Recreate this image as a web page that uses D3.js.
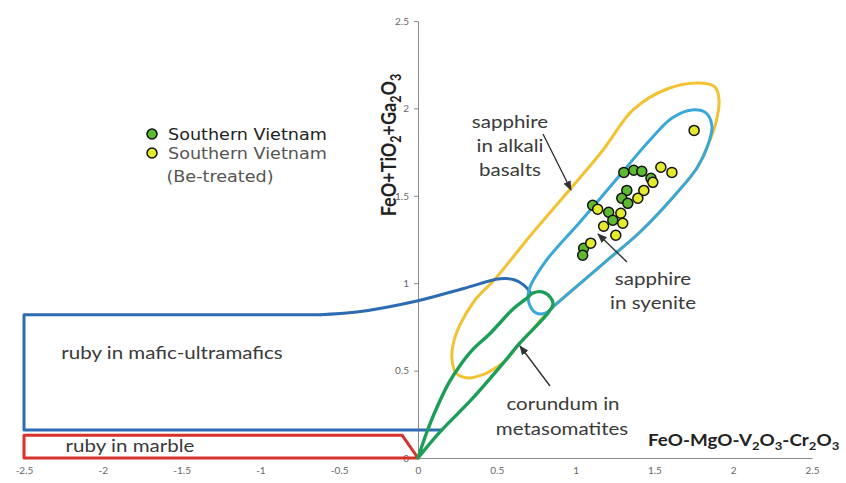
<!DOCTYPE html>
<html>
<head>
<meta charset="utf-8">
<script src="https://cdn.jsdelivr.net/npm/d3@7"></script>
<style>
  html, body { margin: 0; padding: 0; background: #fff; }
  svg { display: block; }
  .lbl { font-family: Lato, "Open Sans", sans-serif; fill: #3a3a3a; }
  .tick text { font-family: Lato, sans-serif; fill: #666; font-size: 10px; }
</style>
</head>
<body>
<svg id="chart" width="846" height="483"></svg>
<script>
// Axis ticks
const xTicks = [-2.5, -2, -1.5, -1, -0.5, 0, 0.5, 1, 1.5, 2, 2.5];
const yTicks = [0, 0.5, 1, 1.5, 2, 2.5];

// Samples: [FeO-MgO-V2O3-Cr2O3, FeO+TiO2+Ga2O3]
const southernVietnam = [
  [1.306, 1.634], [1.369, 1.646], [1.420, 1.640], [1.478, 1.600],
  [1.325, 1.531], [1.293, 1.486], [1.331, 1.457], [1.108, 1.446],
  [1.210, 1.406], [1.236, 1.360], [1.051, 1.200], [1.045, 1.160]
];
const southernVietnamBeTreated = [
  [1.752, 1.874], [1.541, 1.663], [1.611, 1.634], [1.490, 1.577],
  [1.433, 1.531], [1.395, 1.486], [1.140, 1.423], [1.287, 1.400],
  [1.299, 1.343], [1.178, 1.326], [1.255, 1.274], [1.096, 1.229]
];

// Genetic field outlines
const marbleField = [[0, 0], [-2.5, 0], [-2.5, 0.13], [-0.1, 0.13], [0, 0]];
const maficBox = [[0.15, 0.16], [-2.5, 0.16], [-2.5, 0.82], [-0.62, 0.82]];
const maficCurve = [[-0.62, 0.82], [-0.39, 0.835], [0, 0.9], [0.29, 0.97],
  [0.52, 1.025], [0.61, 1.02], [0.67, 0.99], [0.71, 0.95]];
const syeniteField = [
  [0.749, 0.830], [0.704, 0.887], [0.704, 0.961], [0.806, 1.121], [1.028, 1.350],
  [1.282, 1.619], [1.472, 1.819], [1.612, 1.945], [1.739, 1.991], [1.827, 1.974],
  [1.865, 1.899], [1.840, 1.791], [1.770, 1.659], [1.631, 1.505], [1.409, 1.293],
  [1.187, 1.121], [0.996, 0.973], [0.869, 0.875], [0.812, 0.830]
];
const basaltField = [
  [0.317, 0.458], [0.241, 0.486], [0.216, 0.561], [0.222, 0.646], [0.266, 0.761],
  [0.362, 0.904], [0.489, 1.024], [0.711, 1.270], [0.939, 1.510], [1.174, 1.762],
  [1.364, 1.991], [1.580, 2.111], [1.789, 2.145], [1.885, 2.122], [1.910, 2.048],
  [1.891, 1.922], [1.840, 1.791], [1.770, 1.659], [1.631, 1.505], [1.409, 1.293],
  [1.187, 1.121], [0.996, 0.973], [0.869, 0.875], [0.812, 0.824], [0.730, 0.738],
  [0.647, 0.658], [0.552, 0.555], [0.501, 0.520], [0.425, 0.481]
];
const metasomatiteField = [
  [0, 0], [0.038, 0.103], [0.083, 0.211], [0.127, 0.303], [0.191, 0.423],
  [0.268, 0.531], [0.344, 0.617], [0.459, 0.714], [0.603, 0.852], [0.685, 0.910],
  [0.730, 0.944], [0.787, 0.950], [0.838, 0.921], [0.857, 0.881], [0.825, 0.830],
  [0.647, 0.658], [0.552, 0.555], [0.343, 0.338], [0.127, 0.137], [0, 0]
];

const svg = d3.select("#chart");
const x = d3.scaleLinear().domain([-2.5, 2.5]).range([24, 812]);
const y = d3.scaleLinear().domain([0, 2.5]).range([458, 21]);

const linear = d3.line().x(d => x(d[0])).y(d => y(d[1]));
const smooth = d3.line().x(d => x(d[0])).y(d => y(d[1])).curve(d3.curveCatmullRom.alpha(0.5));
const smoothClosed = d3.line().x(d => x(d[0])).y(d => y(d[1])).curve(d3.curveCatmullRomClosed.alpha(0.5));

// Axes
const xAxis = svg.append("g").attr("transform", `translate(0,${y(0)})`)
  .call(d3.axisBottom(x).tickValues(xTicks).tickSize(0).tickPadding(9).tickFormat(d => String(d)));
xAxis.select(".domain").attr("stroke", "#8a8a8a").attr("stroke-width", 1);

const yAxis = svg.append("g").attr("transform", `translate(${x(0)},0)`)
  .call(d3.axisLeft(y).tickValues(yTicks).tickSize(4).tickPadding(5).tickFormat(d => String(d)));
yAxis.select(".domain").attr("stroke", "#8a8a8a").attr("stroke-width", 1);
yAxis.selectAll(".tick line").attr("stroke", "#8a8a8a");

// Fields
const fields = svg.append("g").attr("fill", "none").attr("stroke-linejoin", "round").attr("stroke-linecap", "round");
fields.append("path").attr("d", linear(marbleField)).attr("stroke", "#d8322f").attr("stroke-width", 3);
fields.append("path").attr("d", smoothClosed(basaltField)).attr("stroke", "#f3c233").attr("stroke-width", 3);
fields.append("path").attr("d", linear(maficBox)).attr("stroke", "#2d6cb3").attr("stroke-width", 3);
fields.append("path").attr("d", smooth(maficCurve)).attr("stroke", "#2d6cb3").attr("stroke-width", 3);
fields.append("path").attr("d", smoothClosed(syeniteField)).attr("stroke", "#3aa7d9").attr("stroke-width", 3);
fields.append("path").attr("d", smooth(metasomatiteField)).attr("stroke", "#1c9e58").attr("stroke-width", 3.4);

// Pointer arrows
svg.append("defs").append("marker")
  .attr("id", "head").attr("viewBox", "0 0 10 10").attr("refX", 9).attr("refY", 5)
  .attr("markerWidth", 7).attr("markerHeight", 7).attr("orient", "auto")
  .append("path").attr("d", "M0,1 L10,5 L0,9 Z").attr("fill", "#333");
const arrows = [
  [[543, 134], [571, 190]],
  [[627, 262], [598, 234]],
  [[550, 386], [520, 346]]
];
svg.append("g").selectAll("line").data(arrows).join("line")
  .attr("x1", d => d[0][0]).attr("y1", d => d[0][1])
  .attr("x2", d => d[1][0]).attr("y2", d => d[1][1])
  .attr("stroke", "#333").attr("stroke-width", 1.4).attr("marker-end", "url(#head)");

// Samples
const pts = svg.append("g").attr("stroke", "#111").attr("stroke-width", 1.5);
pts.selectAll(".g").data(southernVietnam).join("circle").attr("class", "g")
  .attr("cx", d => x(d[0])).attr("cy", d => y(d[1])).attr("r", 5).attr("fill", "#5db832");
pts.selectAll(".yl").data(southernVietnamBeTreated).join("circle").attr("class", "yl")
  .attr("cx", d => x(d[0])).attr("cy", d => y(d[1])).attr("r", 5).attr("fill", "#e4ea2c");

// Text is set a little wider than its height, like the rest of the figure
const WIDE = 1.14;

// Field labels
const labels = [
  ["sapphire", 510, 128], ["in alkali", 510, 152], ["basalts", 510, 176],
  ["sapphire", 653, 285], ["in syenite", 653, 309],
  ["corundum in", 563, 410], ["metasomatites", 562, 435],
  ["ruby in mafic-ultramafics", 172, 359], ["ruby in marble", 130, 452]
];
svg.append("g").selectAll("text").data(labels).join("text").attr("class", "lbl")
  .attr("transform", d => `translate(${d[1]},${d[2]}) scale(${WIDE},1)`)
  .attr("text-anchor", "middle").attr("font-size", 18).text(d => d[0]);

// Axis titles
const xt = svg.append("text").attr("transform", `translate(648,446) scale(${WIDE},1)`)
  .attr("font-family", "Lato, sans-serif").attr("font-weight", "bold").attr("font-size", 16.5).attr("fill", "#222");
const xtParts = [["FeO-MgO-V", 0], ["2", 1], ["O", 0], ["3", 1], ["-Cr", 0], ["2", 1], ["O", 0], ["3", 1]];
xtParts.forEach(([t, s], i) => {
  const prevSub = i > 0 && xtParts[i - 1][1];
  xt.append("tspan").attr("font-size", s ? 11.5 : 16.5).attr("dy", s ? 4 : (prevSub ? -4 : 0)).text(t);
});

const yt = svg.append("text").attr("transform", `translate(396,145) rotate(-90) scale(1,${WIDE})`).attr("text-anchor", "middle")
  .attr("font-family", "Lato, sans-serif").attr("font-weight", "bold").attr("font-size", 18).attr("fill", "#222");
const ytParts = [["FeO+TiO", 0], ["2", 1], ["+Ga", 0], ["2", 1], ["O", 0], ["3", 1]];
ytParts.forEach(([t, s], i) => {
  const prevSub = i > 0 && ytParts[i - 1][1];
  yt.append("tspan").attr("font-size", s ? 12.5 : 18).attr("dy", s ? 4 : (prevSub ? -4 : 0)).text(t);
});

// Legend
const lg = svg.append("g");
lg.append("circle").attr("cx", 152).attr("cy", 134).attr("r", 5).attr("fill", "#5db832").attr("stroke", "#111").attr("stroke-width", 1.5);
lg.append("circle").attr("cx", 152).attr("cy", 153).attr("r", 5).attr("fill", "#e4ea2c").attr("stroke", "#111").attr("stroke-width", 1.5);
const legendText = [
  ["Southern Vietnam", 168, 140, "start", "#222"],
  ["Southern Vietnam", 168, 159, "start", "#555"],
  ["(Be-treated)", 220, 182, "middle", "#555"]
];
lg.selectAll("text").data(legendText).join("text")
  .attr("transform", d => `translate(${d[1]},${d[2]}) scale(1.1,1)`)
  .attr("text-anchor", d => d[3]).attr("fill", d => d[4])
  .attr("font-family", "DejaVu Sans, sans-serif").attr("font-size", 16).text(d => d[0]);
</script>
</body>
</html>
